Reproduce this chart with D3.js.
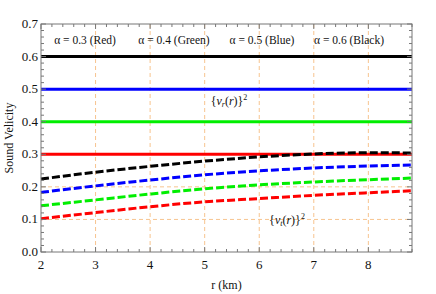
<!DOCTYPE html>
<meta charset="utf-8">
<head>
    <style>
        body { margin: 0; background: #fff; }
        text { font-family: "Liberation Serif", "Times New Roman", serif; fill: #111; }
    </style>
    <script src="https://d3js.org/d3.v7.min.js"></script>
</head>
<body>
    <div id="chart"></div>
    <script>
        // data
        var rTicks = [2, 3, 4, 5, 6, 7, 8];
        var vTicks = [0, 0.1, 0.2, 0.3, 0.4, 0.5, 0.6, 0.7];
        var rPts = [2, 3, 4, 5, 6, 7, 8, 8.8];
        var colors = ["#ff0000", "#00ee00", "#0000ff", "#000000"];
        var labels = ["\u03b1 = 0.3 (Red)", "\u03b1 = 0.4 (Green)", "\u03b1 = 0.5 (Blue)", "\u03b1 = 0.6 (Black)"];
        // radial sound speed squared, constant per alpha
        var vrSq = [0.3, 0.4, 0.5, 0.6];
        // tangential sound speed squared
        var vtRed = [0.102, 0.121, 0.139, 0.154, 0.164, 0.174, 0.182, 0.188];
        var vtGreen = [0.142, 0.160, 0.178, 0.194, 0.206, 0.215, 0.222, 0.227];
        var vtBlue = [0.183, 0.203, 0.221, 0.237, 0.249, 0.258, 0.264, 0.267];
        var vtBlack = [0.224, 0.245, 0.263, 0.279, 0.292, 0.301, 0.305, 0.304];
        var vtSq = [vtRed, vtGreen, vtBlue, vtBlack];

        var width = 436, height = 294;
        var margin = { top: 24, right: 24, bottom: 42, left: 41 };

        var svg = d3.select("#chart").append("svg")
            .attr("width", width)
            .attr("height", height);

        var x = d3.scaleLinear().domain([2, 8.8]).range([margin.left, width - margin.right]);
        var y = d3.scaleLinear().domain([0, 0.7]).range([height - margin.bottom, margin.top]);

        // grid
        var grid = svg.append("g").attr("stroke", "#f7c48f").attr("stroke-width", 1).attr("stroke-dasharray", "4,3");
        grid.selectAll(".gx").data(rTicks.slice(1)).enter().append("line")
            .attr("x1", d => x(d)).attr("x2", d => x(d))
            .attr("y1", y(0)).attr("y2", y(0.7));
        grid.selectAll(".gy").data(vTicks.slice(1, 7)).enter().append("line")
            .attr("y1", d => y(d)).attr("y2", d => y(d))
            .attr("x1", x(2)).attr("x2", x(8.8));

        // solid lines {v_r}^2
        svg.selectAll(".vr").data(vrSq).enter().append("line")
            .attr("x1", x(2)).attr("x2", x(8.8))
            .attr("y1", d => y(d)).attr("y2", d => y(d))
            .attr("stroke", (d, i) => colors[i])
            .attr("stroke-width", 3);

        // dashed curves {v_t}^2
        var line = d3.line().x((d, i) => x(rPts[i])).y(d => y(d)).curve(d3.curveMonotoneX);
        svg.selectAll(".vt").data(vtSq).enter().append("path")
            .attr("d", line)
            .attr("fill", "none")
            .attr("stroke", (d, i) => colors[i])
            .attr("stroke-width", 3)
            .attr("stroke-dasharray", "8,3");

        // frame + ticks
        var frame = svg.append("g").attr("stroke", "#777").attr("fill", "none");
        frame.append("rect")
            .attr("x", x(2)).attr("y", y(0.7))
            .attr("width", x(8.8) - x(2)).attr("height", y(0) - y(0.7));

        var xMinor = d3.range(2, 8.81, 0.2);
        var yMinor = d3.range(0, 0.701, 0.02);
        function isMajor(v, step) { return Math.abs(v / step - Math.round(v / step)) < 1e-6; }

        xMinor.forEach(function (v) {
            var len = isMajor(v, 1) ? 5 : 3;
            frame.append("line").attr("x1", x(v)).attr("x2", x(v)).attr("y1", y(0)).attr("y2", y(0) - len);
            frame.append("line").attr("x1", x(v)).attr("x2", x(v)).attr("y1", y(0.7)).attr("y2", y(0.7) + len);
        });
        yMinor.forEach(function (v) {
            var len = isMajor(v, 0.1) ? 5 : 3;
            frame.append("line").attr("y1", y(v)).attr("y2", y(v)).attr("x1", x(2)).attr("x2", x(2) + len);
            frame.append("line").attr("y1", y(v)).attr("y2", y(v)).attr("x1", x(8.8)).attr("x2", x(8.8) - len);
        });

        // tick labels
        svg.selectAll(".xl").data(rTicks).enter().append("text")
            .attr("x", d => x(d)).attr("y", y(0) + 17)
            .attr("text-anchor", "middle").attr("font-size", 13)
            .text(d => d);
        svg.selectAll(".yl").data(vTicks).enter().append("text")
            .attr("x", x(2) - 3).attr("y", d => y(d) + 4)
            .attr("text-anchor", "end").attr("font-size", 13)
            .text(d => d.toFixed(1));

        // axis titles
        svg.append("text")
            .attr("x", (x(2) + x(8.8)) / 2).attr("y", 289)
            .attr("text-anchor", "middle").attr("font-size", 12)
            .text("r (km)");
        svg.append("text")
            .attr("transform", "translate(13," + (y(0.35)) + ") rotate(-90)")
            .attr("text-anchor", "middle").attr("font-size", 12)
            .text("Sound Velicity");

        // legend labels
        var labX = [85, 174, 262, 349];
        svg.selectAll(".lab").data(labels).enter().append("text")
            .attr("x", (d, i) => labX[i]).attr("y", 44)
            .attr("text-anchor", "middle").attr("font-size", 11.5)
            .text(d => d);

        function vLabel(cx, cy, sub) {
            var t = svg.append("text").attr("x", cx).attr("y", cy)
                .attr("text-anchor", "middle").attr("font-size", 12);
            t.append("tspan").text("{");
            t.append("tspan").attr("font-style", "italic").text("v");
            t.append("tspan").attr("font-style", "italic").attr("font-size", 8).attr("dy", 2).text(sub);
            t.append("tspan").attr("dy", -2).text("(");
            t.append("tspan").attr("font-style", "italic").text("r");
            t.append("tspan").text(")}");
            t.append("tspan").attr("font-size", 8).attr("dy", -5).text("2");
        }
        vLabel(229, 105, "r");
        vLabel(287, 224, "t");
    </script>
</body>
